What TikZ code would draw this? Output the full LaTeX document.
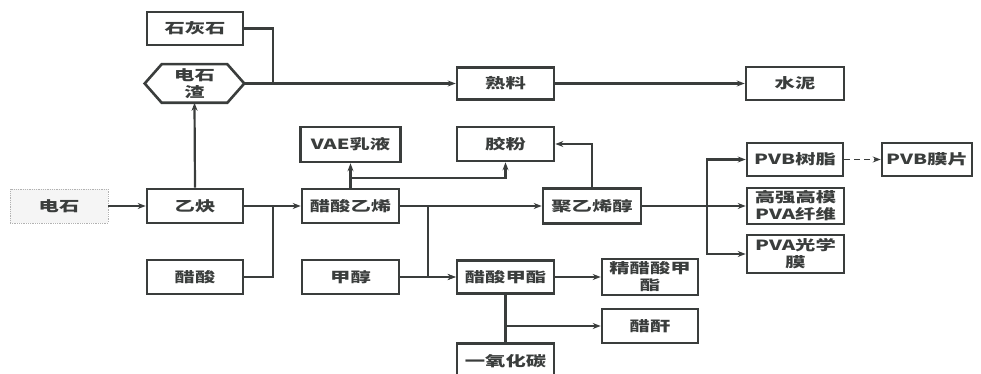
\documentclass[tikz,border=0pt]{standalone}
\usepackage{fontspec}
\newfontfamily\cjk[FakeStretch=1.45]{Noto Sans CJK SC}
\usetikzlibrary{arrows.meta,calc}
\definecolor{ln}{HTML}{3A3D3C}
\tikzset{
  box/.style={draw=ln,line width=2.6pt,minimum width=#1,minimum height=34pt,inner sep=0pt,align=center,
    font=\cjk\bfseries\fontsize{14}{17}\selectfont,text=ln},
  box/.default=97pt,
  conn/.style={draw=ln,line width=2.2pt},
  arr/.style={conn,-{Stealth[length=8pt,width=6pt]}},
}
\begin{document}
\begin{tikzpicture}[x=1pt,y=1pt]
\useasboundingbox (0,0) rectangle (981,374);
% nodes
\node[box=96pt,minimum height=33pt] (shs) at (195,345.5) {石灰石};
\node[box=97pt,draw=none,minimum height=36pt] (zha) at (194.5,290.5) {电石\\渣};
\draw[ln,line width=2.6pt] ($(zha.north west)+(17,0)$) -- ($(zha.north east)+(-17,0)$) -- (zha.east)
  -- ($(zha.south east)+(-17,0)$) -- ($(zha.south west)+(17,0)$) -- (zha.west) -- cycle;
\node[box=97pt,minimum height=32pt] (shl) at (505.5,290.5) {熟料};
\node[box=98pt,minimum height=33pt] (shn) at (795,290.5) {水泥};
\node[box=100pt,minimum height=35pt] (vae) at (350.5,229.5) {VAE乳液};
\node[box=97pt] (jf) at (505.5,230) {胶粉};
\node[box=96pt,minimum height=33pt] (pvb) at (795,214.5) {PVB树脂};
\node[box=90pt,minimum height=33pt] (pvbm) at (927,214.5) {PVB膜片};
\node[box=98pt,draw=gray!60,line width=0.8pt,densely dotted,fill=gray!8] (ds) at (59,168) {电石};
\node[box=96pt] (yq) at (195,168) {乙炔};
\node[box=97pt] (csyx) at (350.5,168) {醋酸乙烯};
\node[box=96pt] (cs) at (195,97) {醋酸};
\node[box=97pt] (jc) at (350.5,97) {甲醇};
\node[box=98pt,minimum height=35pt] (jyxc) at (592,168) {聚乙烯醇};
\node[box=97pt,minimum height=36pt] (gq) at (795.5,168) {高强高模\\PVA纤维};
\node[box=97pt,minimum height=38pt] (gxm) at (795.5,120) {PVA光学\\膜};
\node[box=97pt,minimum height=33pt] (csjz) at (505.5,97) {醋酸甲酯};
\node[box=96pt,minimum height=36pt] (jcs) at (650,97) {精醋酸甲\\酯};
\node[box=96pt] (cg) at (650,48) {醋酐};
\node[box=97pt,minimum height=36pt,anchor=north] (co) at (505.5,32) {一氧化碳};
% junctions
\coordinate (j1) at (273,290.5);
\coordinate (j2) at (273,168);
\coordinate (j3) at (428,168);
\coordinate (j4) at (505.5,48);
\coordinate (j5) at (707,168);
\coordinate (j6) at (350.5,196);
% connectors
\draw[conn] (shs.east) -| (j1);
\draw[arr] (zha.east) -- (shl.west);
\draw[arr] (shl.east) -- (shn.west);
\draw[arr] (ds.east) -- (yq.west);
\draw[arr] (yq.north) -- (zha.south);
\draw[arr] (yq.east) -- (csyx.west);
\draw[conn] (cs.east) -| (j2);
\draw[arr] (csyx.north) -- (vae.south);
\draw[arr] (j6) -| (jf.south);
\draw[arr] (csyx.east) -- (jyxc.west);
\draw[arr] (j3) |- (csjz.west);
\draw[arr] (jc.east) -- (csjz.west);
\draw[arr] (csjz.east) -- (jcs.west);
\draw[conn] (csjz.south) -- (co.north);
\draw[arr] (j4) -- (cg.west);
\draw[arr] (jyxc.north) |- (jf.east);
\draw[arr] (jyxc.east) -- (gq.west);
\draw[arr] (j5) |- (pvb.west);
\draw[arr] (j5) |- (gxm.west);
\draw[arr,line width=1.6pt,dash pattern=on 6pt off 4pt] (pvb.east) -- (pvbm.west);
\end{tikzpicture}
\end{document}
